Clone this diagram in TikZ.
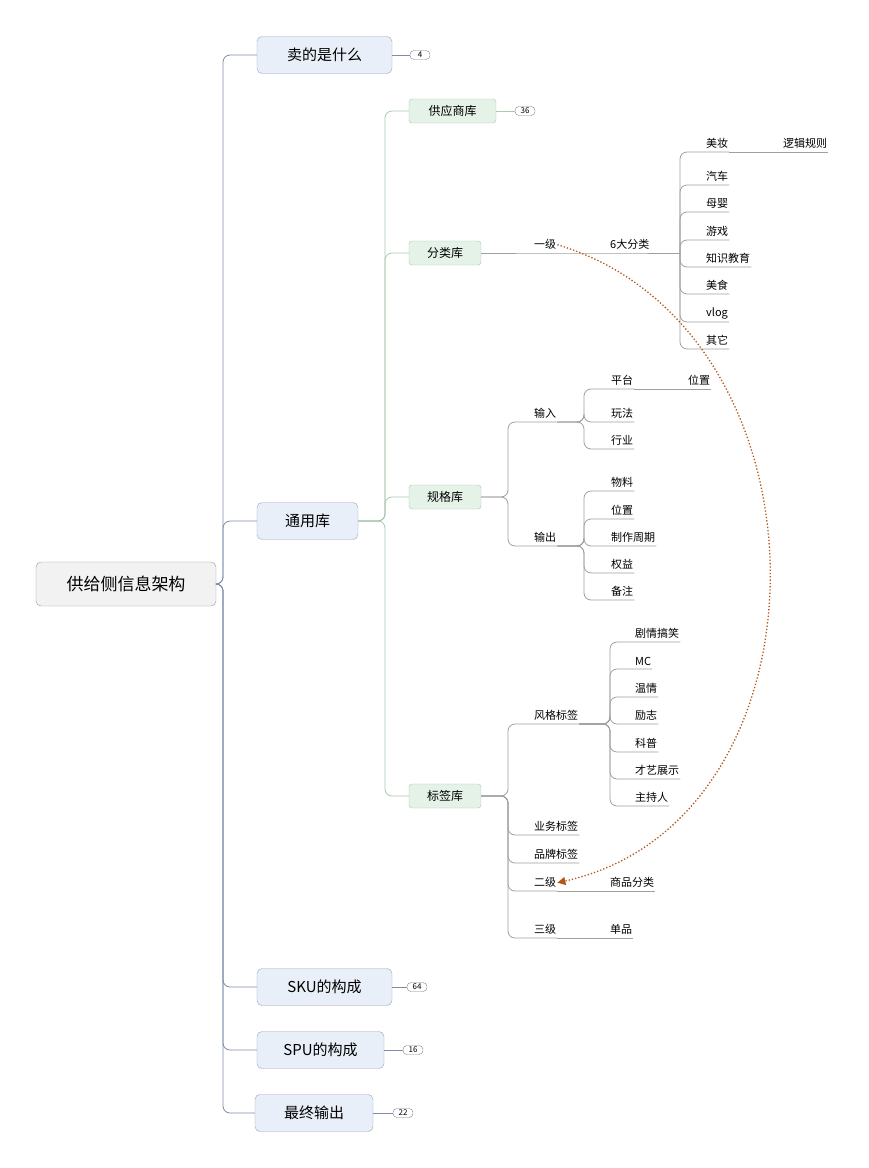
\documentclass[tikz,border=0pt]{standalone}
\usepackage{fontspec}
\setmainfont{Noto Sans CJK SC}
\usetikzlibrary{arrows.meta}
\definecolor{bluebox}{HTML}{E9EFF8}
\definecolor{blueline}{HTML}{7D8CA8}
\definecolor{greenbox}{HTML}{E5F2E8}
\definecolor{greenline}{HTML}{A9C8AF}
\definecolor{leafline}{HTML}{A0A0A0}
\definecolor{jump}{HTML}{B4561A}
\tikzset{
  rootbox/.style = {rectangle, rounded corners=5pt, draw=gray!80, fill=gray!10, minimum width=180pt, minimum height=44pt, font=\fontsize{17}{20}\selectfont},
  topicbox/.style = {rectangle, rounded corners=5pt, draw=blueline!80, fill=bluebox, minimum height=37pt, font=\fontsize{15}{18}\selectfont},
  subbox/.style = {rectangle, rounded corners=3pt, draw=greenline, fill=greenbox, minimum height=24pt, font=\fontsize{12}{14}\selectfont},
  leaf/.style = {anchor=south west, inner xsep=1pt, inner ysep=3pt, font=\fontsize{11}{13}\selectfont},
  badge/.style = {rectangle, rounded corners=4pt, draw=gray, inner sep=1pt, minimum width=20pt, minimum height=9pt, font=\fontsize{8}{9}\selectfont},
  lk/.style = {rounded corners=7pt, line width=0.8pt},
  toplk/.style = {lk, draw=blueline},
  sublk/.style = {lk, draw=greenline},
  leaflk/.style = {lk, draw=leafline}
}
\begin{document}
\begin{tikzpicture}[x=1pt,y=-1pt]
\useasboundingbox (0,0) rectangle (869,1168);

% root and main topics
\node[rootbox] (root) at (126,584) {供给侧信息架构};
\node[topicbox, minimum width=135pt] (sell) at (324.5,55) {卖的是什么};
\node[topicbox, minimum width=101pt] (common) at (307.5,521) {通用库};
\node[topicbox, minimum width=135pt] (sku) at (324.5,987) {SKU的构成};
\node[topicbox, minimum width=127pt] (spu) at (320.5,1050) {SPU的构成};
\node[topicbox, minimum width=118pt] (final) at (314,1113) {最终输出};
\node[badge] (nsell) at (420,55) {4};
\node[badge] (nsku) at (417,987) {64};
\node[badge] (nspu) at (413,1050) {16};
\node[badge] (nfinal) at (403,1113) {22};

\foreach \t in {sell,common,sku,spu,final}
  \draw[toplk] (root.east) -- (223,584) |- (\t.west);
\draw[blueline, line width=0.8pt] (sell.east) -- (nsell.west);
\draw[blueline, line width=0.8pt] (sku.east) -- (nsku.west);
\draw[blueline, line width=0.8pt] (spu.east) -- (nspu.west);
\draw[blueline, line width=0.8pt] (final.east) -- (nfinal.west);

% libraries
\node[subbox, minimum width=87pt] (supplier) at (452.5,111) {供应商库};
\node[subbox, minimum width=72pt] (category) at (445,253) {分类库};
\node[subbox, minimum width=72pt] (spec) at (445,497) {规格库};
\node[subbox, minimum width=72pt] (tag) at (445,796) {标签库};
\node[badge] (nsupplier) at (525,111) {36};
\draw[greenline, line width=0.8pt] (supplier.east) -- (nsupplier.west);
\foreach \t in {supplier,category,spec,tag}
  \draw[sublk] (common.east) -- (385,521) |- (\t.west);

% 分类库
\node[leaf] (lv1) at (533,253) {一级};
\node[leaf] (six) at (609,253) {6大分类};
\coordinate (sixend) at (680,253);
\draw[leaflk] (category.east) -- (lv1.south east) -- (six.south west) -- (sixend);
\foreach \n/\y/\s in {c1/152/美妆,c2/185/汽车,c3/212/母婴,c4/240/游戏,c5/267/知识教育,c6/294/美食,c7/322/vlog,c8/349/其它}
{
  \node[leaf] (\n) at (705,\y) {\s};
  \draw[leaflk] (sixend) |- (\n.south west) -- (\n.south east);
}
\node[leaf] (logic) at (782,152) {逻辑规则};
\draw[leaflk] (c1.south east) -- (logic.south east);

% 规格库
\node[leaf] (in) at (533,422) {输入};
\node[leaf] (out) at (533,546) {输出};
\foreach \t in {in,out}
  \draw[leaflk] (spec.east) -- (508,497) |- (\t.south west) -- (\t.south east);
\node[leaf] (platform) at (610,389) {平台};
\node[leaf] (play) at (610,422) {玩法};
\node[leaf] (trade) at (610,449) {行业};
\foreach \t in {platform,play,trade}
  \draw[leaflk] (in.south east) -- (584,422) |- (\t.south west) -- (\t.south east);
\node[leaf] (pos1) at (687,389) {位置};
\draw[leaflk] (platform.south east) -- (pos1.south east);
\foreach \n/\y/\s in {o1/491/物料,o2/519/位置,o3/546/制作周期,o4/573/权益,o5/600/备注}
{
  \node[leaf] (\n) at (610,\y) {\s};
  \draw[leaflk] (out.south east) -- (584,546) |- (\n.south west) -- (\n.south east);
}

% 标签库
\node[leaf] (style) at (533,724) {风格标签};
\node[leaf] (biz) at (533,835) {业务标签};
\node[leaf] (brand) at (533,863) {品牌标签};
\node[leaf] (lv2) at (533,891) {二级};
\node[leaf] (lv3) at (533,938) {三级};
\foreach \t in {style,biz,brand,lv2,lv3}
  \draw[leaflk] (tag.east) -- (508,796) |- (\t.south west) -- (\t.south east);
\node[leaf] (goods) at (609,891) {商品分类};
\node[leaf] (item) at (609,938) {单品};
\draw[leaflk] (lv2.south east) -- (goods.south west) -- (goods.south east);
\draw[leaflk] (lv3.south east) -- (item.south west) -- (item.south east);
\foreach \n/\y/\s in {s1/642/剧情搞笑,s2/669/MC,s3/697/温情,s4/724/励志,s5/752/科普,s6/779/才艺展示,s7/806/主持人}
{
  \node[leaf] (\n) at (634,\y) {\s};
  \draw[leaflk] (style.south east) -- (610,724) |- (\n.south west) -- (\n.south east);
}

% jump link
\draw[jump, line width=1.3pt, dotted, -{Triangle[length=8pt,width=8pt]}]
  (lv1.east) .. controls (840,330) and (840,820) .. (lv2.east);
\end{tikzpicture}
\end{document}
